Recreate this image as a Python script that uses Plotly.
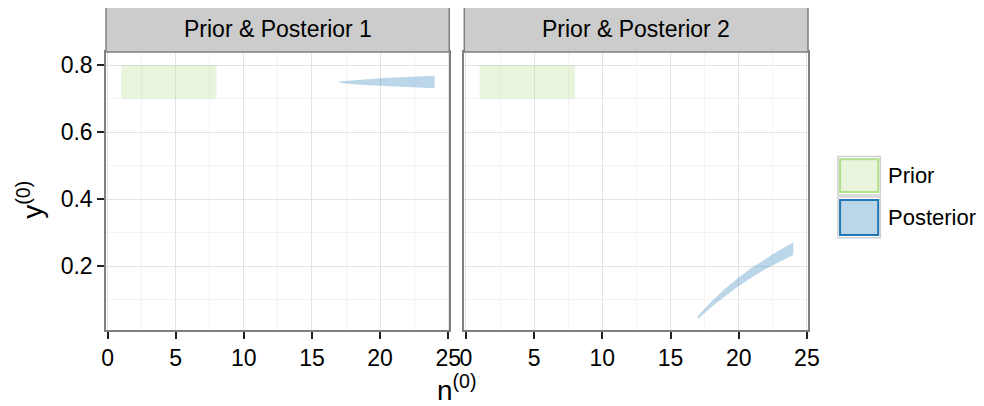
import plotly.graph_objects as go

# ---- data ----
panels = ["Prior & Posterior 1", "Prior & Posterior 2"]
prior_n = [1, 8]
prior_y = [0.7, 0.8]
post_n = [17, 18, 19, 20, 21, 22, 23, 24]
post1_lo = [0.747, 0.743, 0.740, 0.738, 0.736, 0.734, 0.732, 0.731]
post1_hi = [0.751, 0.755, 0.758, 0.761, 0.763, 0.765, 0.767, 0.768]
post2_lo = [0.042, 0.078, 0.110, 0.140, 0.167, 0.192, 0.213, 0.233]
post2_hi = [0.050, 0.094, 0.132, 0.166, 0.196, 0.223, 0.248, 0.270]
x_ticks = [0, 5, 10, 15, 20, 25]
y_ticks = [0.2, 0.4, 0.6, 0.8]
legend_labels = ["Prior", "Posterior"]

prior_fill = "rgba(178,223,138,0.3)"
post_fill = "rgba(31,120,180,0.3)"
prior_line = "#b2df8a"
post_line = "#1f78b4"

fig = go.Figure()
posts = [(post1_lo, post1_hi), (post2_lo, post2_hi)]
for i, (lo, hi) in enumerate(posts):
    xa = "x" if i == 0 else "x2"
    ya = "y" if i == 0 else "y2"
    fig.add_trace(go.Scatter(
        x=[prior_n[0], prior_n[1], prior_n[1], prior_n[0]],
        y=[prior_y[0], prior_y[0], prior_y[1], prior_y[1]],
        fill="toself", fillcolor=prior_fill, mode="lines",
        line=dict(width=0), xaxis=xa, yaxis=ya, showlegend=False, hoverinfo="skip"))
    fig.add_trace(go.Scatter(
        x=post_n + post_n[::-1], y=hi + lo[::-1],
        fill="toself", fillcolor=post_fill, mode="lines",
        line=dict(width=0), xaxis=xa, yaxis=ya, showlegend=False, hoverinfo="skip"))

FONT = "Liberation Sans, Arial, sans-serif"
FS = 23
ax_common = dict(
    range=[-0.12, 25.08], tickvals=x_ticks, ticktext=[str(v) for v in x_ticks],
    showgrid=True, gridcolor="#e3e3e3", gridwidth=1,
    minor=dict(dtick=2.5, tick0=0, showgrid=True, gridcolor="#f3f3f3", gridwidth=1),
    showline=True, linecolor="#7f7f7f", linewidth=1.5, mirror=True,
    ticks="outside", ticklen=7, tickwidth=1.5, tickcolor="#222222",
    tickfont=dict(size=FS, color="black", family=FONT), zeroline=False,
    automargin=False,
)
y_common = dict(
    range=[0.009, 0.839], tickvals=y_ticks, ticktext=[f"{v:.1f}" for v in y_ticks],
    showgrid=True, gridcolor="#e3e3e3", gridwidth=1,
    minor=dict(dtick=0.1, tick0=0, showgrid=True, gridcolor="#f3f3f3", gridwidth=1),
    showline=True, linecolor="#7f7f7f", linewidth=1.5, mirror=True,
    tickfont=dict(size=FS, color="black", family=FONT), zeroline=False,
    automargin=False,
)

# page has an 8px body margin: figure is offset by 8px
W, H = 984, 406
d1 = [0, 0.489]
d2 = [0.5104, 1]
fig.update_layout(
    width=W, height=H,
    margin=dict(l=97.7, r=183.7, t=44.3, b=84, pad=0),
    paper_bgcolor="white", plot_bgcolor="white",
    showlegend=False,
    font=dict(family=FONT, color="black"),
    xaxis=dict(domain=d1, anchor="y", **ax_common),
    xaxis2=dict(domain=d2, anchor="y2", **ax_common),
    yaxis=dict(anchor="x", ticks="outside", ticklen=7, tickwidth=1.5, tickcolor="#222222", **y_common),
    yaxis2=dict(anchor="x2", matches="y", showticklabels=False, ticks="", **y_common),
)

# strips
for d, label in zip([d1, d2], panels):
    fig.add_shape(type="rect", xref="paper", yref="paper", x0=d[0], x1=d[1], y0=1.0, y1=1.1642,
                  fillcolor="#cccccc", line=dict(color="#7f7f7f", width=1.5), layer="above")
    fig.add_annotation(xref="paper", yref="paper", x=(d[0] + d[1]) / 2, y=1.082, text=label,
                       showarrow=False, font=dict(size=FS, color="black"), xanchor="center", yanchor="middle")

# axis titles
fig.add_annotation(xref="paper", yref="paper", x=0.5, y=-0.208, text="n<sup>(0)</sup>",
                   showarrow=False, font=dict(size=28, color="black"), xanchor="center", yanchor="middle")
fig.add_annotation(xref="paper", yref="paper", x=-0.1077, y=0.47, text="y<sup>(0)</sup>", textangle=-90,
                   showarrow=False, font=dict(size=28, color="black"), xanchor="center", yanchor="middle")

# legend (manual)
leg = [(legend_labels[0], prior_fill, prior_line, 0.624, 0.486),
       (legend_labels[1], post_fill, post_line, 0.478, 0.332)]
for label, fc, lc, ytop, ybot in leg:
    fig.add_shape(type="rect", xref="paper", yref="paper", x0=1.0427, x1=1.1030, y0=ybot, y1=ytop,
                  fillcolor="white", line=dict(color="#cfcfcf", width=1.5))
    fig.add_shape(type="rect", xref="paper", yref="paper", x0=1.0457, x1=1.1000,
                  y0=ybot + 0.01, y1=ytop - 0.01, fillcolor=fc, line=dict(color=lc, width=2))
    fig.add_annotation(xref="paper", yref="paper", x=1.111, y=(ytop + ybot) / 2, text=label,
                       showarrow=False, font=dict(size=22, color="black"), xanchor="left", yanchor="middle")

fig.write_html("out.html")
